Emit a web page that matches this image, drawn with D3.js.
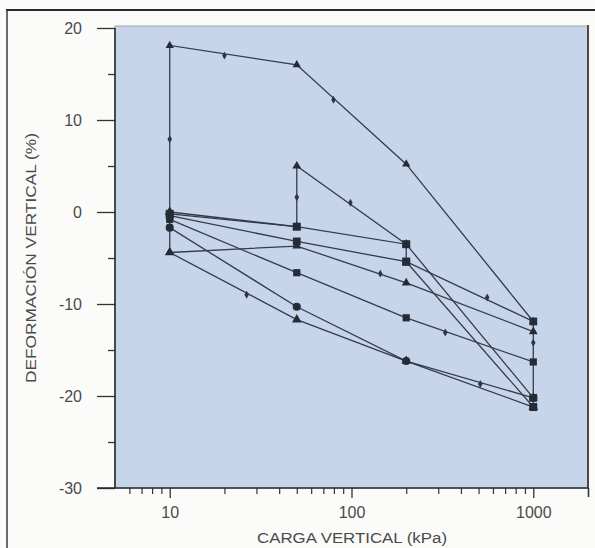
<!DOCTYPE html>
<html>
<head>
<meta charset="utf-8">
<script src="https://cdn.jsdelivr.net/npm/d3@7/dist/d3.min.js"></script>
<style>
  html, body { margin: 0; padding: 0; background: #fbfbf9; }
  svg { display: block; }
  text { font-family: "Liberation Sans", "DejaVu Sans", sans-serif; fill: #4a4a4a; }
</style>
</head>
<body>
<svg id="chart" width="595" height="548"></svg>
<script>
// Load paths of each specimen: [vertical load (kPa), vertical strain (%)]
const swellAt10    = [[10, 0], [10, 18.1], [50, 16.0], [200, 5.2], [1000, -11.9]];
const swellAt50    = [[10, 0], [50, -1.6], [50, 5.0], [200, -3.5], [1000, -20.2]];
const collapseAt200 = [[10, -0.2], [50, -1.6], [200, -3.5], [200, -5.4], [1000, -21.2]];
const collapseAt1000 = [[10, -0.4], [50, -3.2], [200, -5.4], [1000, -11.9], [1000, -20.2]];
const dryPathA     = [[10, -0.8], [50, -6.6], [200, -11.5], [1000, -16.3]];
const dryPathB     = [[10, -1.7], [50, -10.3], [200, -16.2], [1000, -20.2]];
const collapseAt10 = [[10, 0], [10, -4.4], [50, -11.7], [200, -16.2], [1000, -21.2]];
const reloadPath   = [[10, -4.4], [50, -3.7], [200, -7.7], [1000, -13.0]];

// Direction marks drawn along the paths
const pathMarks = [[10, 7.9], [20, 17.0], [79.6, 12.2], [50, 1.6], [98.6, 1.0], [26.5, -9.0],
                   [144, -6.7], [558, -9.3], [328, -13.1], [1000, -14.2], [511, -18.7]];

// Axis ticks
const yMajorTicks = [20, 10, 0, -10, -20, -30];
const yMinorTicks = [15, 5, -5, -15, -25];
const xMajorTicks = [10, 100, 1000];
const xMinorTicks = [6, 7, 8, 9, 20, 30, 40, 50, 60, 70, 80, 90,
                     200, 300, 400, 500, 600, 700, 800, 900];
const xEndTick = [2000];

const xTitle = "CARGA VERTICAL (kPa)";
const yTitle = "DEFORMACIÓN VERTICAL (%)";

const series = [
  { pts: swellAt10,     sym: d3.symbolTriangle, size: 30 },
  { pts: swellAt50,     sym: d3.symbolTriangle, size: 34 },
  { pts: collapseAt200, sym: d3.symbolSquare,   size: 64 },
  { pts: collapseAt1000, sym: d3.symbolSquare,  size: 60 },
  { pts: dryPathA,      sym: d3.symbolSquare,   size: 52 },
  { pts: dryPathB,      sym: d3.symbolCircle,   size: 52 },
  { pts: collapseAt10,  sym: d3.symbolTriangle, size: 40 },
  { pts: reloadPath,    sym: d3.symbolTriangle, size: 34 }
];

const svg = d3.select("#chart");
const plotLeft = 115, plotRight = 588, plotTop = 28, plotBottom = 488;

const x = d3.scaleLog().domain([5, 2000]).range([plotLeft, plotRight]);
const y = d3.scaleLinear().domain([-30, 20]).range([plotBottom, plotTop]);

// Outer frame
svg.append("line").attr("x1", 6).attr("x2", 595).attr("y1", 10).attr("y2", 10)
  .attr("stroke", "#2a2a2a").attr("stroke-width", 2);
svg.append("line").attr("x1", 7).attr("x2", 7).attr("y1", 10).attr("y2", 548)
  .attr("stroke", "#3a3a3a").attr("stroke-width", 1.5);

// Plot panel
svg.append("rect").attr("x", plotLeft).attr("y", plotTop - 2)
  .attr("width", plotRight - plotLeft).attr("height", plotBottom - plotTop + 2)
  .attr("fill", "#c6d5ea").attr("stroke", "#9aa3ad").attr("stroke-width", 1);
svg.append("line").attr("x1", plotRight).attr("x2", plotRight)
  .attr("y1", plotTop - 3).attr("y2", plotBottom)
  .attr("stroke", "#4a4a4a").attr("stroke-width", 2);

// Y axis
const yMajor = svg.append("g").attr("transform", `translate(${plotLeft},0)`)
  .call(d3.axisLeft(y).tickValues(yMajorTicks).tickSize(18).tickPadding(15)
    .tickFormat(d => d < 0 ? "-" + Math.abs(d) : d));
yMajor.select(".domain").remove();
yMajor.selectAll("line").attr("stroke", "#333").attr("stroke-width", 1.3);
yMajor.selectAll("text").attr("font-size", 16).attr("fill", "#4a4a4a")
  .style("font-family", "Liberation Sans, sans-serif");

const yMinor = svg.append("g").attr("transform", `translate(${plotLeft},0)`)
  .call(d3.axisLeft(y).tickValues(yMinorTicks).tickSize(7).tickFormat(""));
yMinor.select(".domain").remove();
yMinor.selectAll("line").attr("stroke", "#333").attr("stroke-width", 1.3);

svg.append("line").attr("x1", plotLeft).attr("x2", plotLeft)
  .attr("y1", plotTop).attr("y2", plotBottom)
  .attr("stroke", "#2a2a2a").attr("stroke-width", 1.6);

// X axis
const xMajor = svg.append("g").attr("transform", `translate(0,${plotBottom})`)
  .call(d3.axisBottom(x).tickValues(xMajorTicks).tickSize(10).tickPadding(9)
    .tickFormat(d3.format("d")));
xMajor.select(".domain").remove();
xMajor.selectAll("line").attr("stroke", "#333").attr("stroke-width", 1.3);
xMajor.selectAll("text").attr("font-size", 16).attr("fill", "#4a4a4a")
  .style("font-family", "Liberation Sans, sans-serif");

const xMinor = svg.append("g").attr("transform", `translate(0,${plotBottom})`)
  .call(d3.axisBottom(x).tickValues(xMinorTicks).tickSize(6).tickFormat(""));
xMinor.select(".domain").remove();
xMinor.selectAll("line").attr("stroke", "#333").attr("stroke-width", 1.2);

const xEnd = svg.append("g").attr("transform", `translate(0,${plotBottom})`)
  .call(d3.axisBottom(x).tickValues(xEndTick).tickSize(9).tickFormat(""));
xEnd.select(".domain").remove();
xEnd.selectAll("line").attr("stroke", "#333").attr("stroke-width", 1.6);

svg.append("line").attr("x1", plotLeft - 18).attr("x2", plotRight)
  .attr("y1", plotBottom).attr("y2", plotBottom)
  .attr("stroke", "#2a2a2a").attr("stroke-width", 1.6);

// Axis titles
svg.append("text").attr("x", 352).attr("y", 543).attr("text-anchor", "middle")
  .attr("font-size", 14).attr("textLength", 190).attr("lengthAdjust", "spacingAndGlyphs")
  .text(xTitle);
svg.append("text").attr("transform", "translate(36,258) rotate(-90)")
  .attr("text-anchor", "middle").attr("font-size", 14)
  .attr("textLength", 250).attr("lengthAdjust", "spacingAndGlyphs")
  .text(yTitle);

// Load paths
const pathLine = d3.line().x(d => x(d[0])).y(d => y(d[1]));
const plot = svg.append("g");
series.forEach(s => {
  plot.append("path").attr("d", pathLine(s.pts))
    .attr("fill", "none").attr("stroke", "#353b4a").attr("stroke-width", 1.3);
});
series.forEach(s => {
  plot.selectAll(null).data(s.pts).enter().append("path")
    .attr("transform", d => `translate(${x(d[0])},${y(d[1])})`)
    .attr("d", d3.symbol().type(s.sym).size(s.size))
    .attr("fill", "#262b38");
});

// Direction marks
plot.selectAll(null).data(pathMarks).enter().append("path")
  .attr("transform", d => `translate(${x(d[0])},${y(d[1])})`)
  .attr("d", d3.symbol().type(d3.symbolDiamond).size(18))
  .attr("fill", "#2f3544");
</script>
</body>
</html>
